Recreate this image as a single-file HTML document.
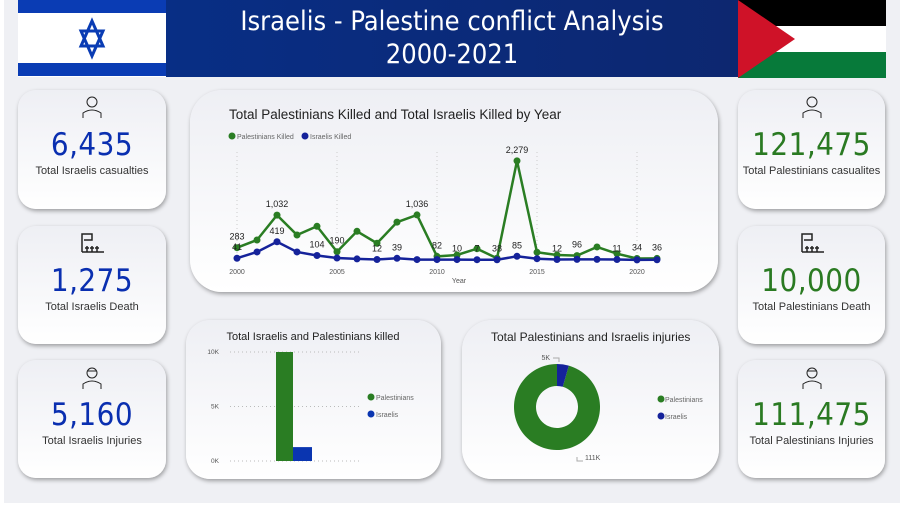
<!DOCTYPE html>
<html><head><meta charset="utf-8">
<style>
*{box-sizing:border-box;margin:0;padding:0}
body{width:904px;height:507px;overflow:hidden;background:#fff;font-family:"Liberation Sans",sans-serif;position:relative}
#bg{position:absolute;left:4px;top:0;width:896px;height:503px;background:#eff0f4}
.card{position:absolute;border-radius:18px;background:linear-gradient(#eeeff4,#fff);box-shadow:1px 2px 4px rgba(0,0,0,.35)}
.kpi{text-align:center}
.kpi .v{position:absolute;left:0;right:0;top:37px;font-size:31px;letter-spacing:0.5px;font-family:"DejaVu Sans Condensed","Liberation Sans",sans-serif}
.kpi .l{position:absolute;left:0;right:0;top:75px;font-size:11px;color:#333}
.kpi .ic{position:absolute;left:50%;top:4px;transform:translateX(-50%)}
.blue{color:#0a2fb0}.green{color:#2a7a22}
</style></head><body>
<div id="bg"></div>
<svg style="position:absolute;left:18px;top:0" width="148" height="77">
<rect width="148" height="77" fill="#fff"/><rect y="0" width="148" height="13" fill="#0a3cb4"/><rect y="63" width="148" height="13" fill="#0a3cb4"/>
<polygon points="74,21 85,46 63,46" fill="none" stroke="#0a3cb4" stroke-width="3"/><polygon points="74,56 85,31 63,31" fill="none" stroke="#0a3cb4" stroke-width="3"/></svg>
<div style="position:absolute;left:166px;top:0;width:572px;height:77px;background:linear-gradient(90deg,#082e85,#0d2770);color:#fff;text-align:center;font-size:27px;line-height:33px;padding-top:5px;font-family:'DejaVu Sans Condensed','Liberation Sans',sans-serif">Israelis - Palestine conflict Analysis<br>2000-2021</div>
<svg style="position:absolute;left:738px;top:0" width="148" height="78">
<rect width="148" height="26" fill="#000"/><rect y="26" width="148" height="26" fill="#fff"/><rect y="52" width="148" height="26" fill="#077a3a"/><polygon points="0,0 57,39 0,78" fill="#cf1228"/></svg>

<div class="card kpi" style="left:18px;top:90px;width:148px;height:119px">
<svg class="ic" width="22" height="24"><circle cx="11" cy="8" r="5" fill="none" stroke="#222"/><path d="M2 24v-5q9-6 18 0v5" fill="none" stroke="#222"/></svg>
<div class="v blue">6,435</div><div class="l">Total Israelis casualties</div></div>
<div class="card kpi" style="left:18px;top:226px;width:148px;height:118px">
<svg class="ic" width="26" height="24"><path d="M3 22V4h10v6H5M3 22h22M8 22v-6M13 22v-6M18 22v-6M6 18h4M11 18h4M16 18h4" fill="none" stroke="#222" stroke-width="1.5"/></svg>
<div class="v blue">1,275</div><div class="l">Total Israelis Death</div></div>
<div class="card kpi" style="left:18px;top:360px;width:148px;height:118px">
<svg class="ic" width="22" height="26"><circle cx="11" cy="9" r="5" fill="none" stroke="#222"/><path d="M6 7h10M2 25v-5q9-6 18 0v5" fill="none" stroke="#222"/></svg>
<div class="v blue">5,160</div><div class="l">Total Israelis Injuries</div></div>
<div class="card kpi" style="left:738px;top:90px;width:147px;height:119px">
<svg class="ic" width="22" height="24"><circle cx="11" cy="8" r="5" fill="none" stroke="#222"/><path d="M2 24v-5q9-6 18 0v5" fill="none" stroke="#222"/></svg>
<div class="v green">121,475</div><div class="l">Total Palestinians casualites</div></div>
<div class="card kpi" style="left:738px;top:226px;width:147px;height:118px">
<svg class="ic" width="26" height="24"><path d="M3 22V4h10v6H5M3 22h22M8 22v-6M13 22v-6M18 22v-6M6 18h4M11 18h4M16 18h4" fill="none" stroke="#222" stroke-width="1.5"/></svg>
<div class="v green">10,000</div><div class="l">Total Palestinians Death</div></div>
<div class="card kpi" style="left:738px;top:360px;width:147px;height:118px">
<svg class="ic" width="22" height="26"><circle cx="11" cy="9" r="5" fill="none" stroke="#222"/><path d="M6 7h10M2 25v-5q9-6 18 0v5" fill="none" stroke="#222"/></svg>
<div class="v green">111,475</div><div class="l">Total Palestinians Injuries</div></div>

<div class="card" style="left:190px;top:90px;width:528px;height:202px;border-radius:32px">
<svg id="line" width="528" height="202" style="position:absolute;left:0;top:0"></svg></div>
<div class="card" style="left:186px;top:320px;width:255px;height:159px;border-radius:24px">
<svg id="bar" width="255" height="159" style="position:absolute;left:0;top:0"></svg></div>
<div class="card" style="left:462px;top:320px;width:257px;height:159px;border-radius:30px">
<svg id="donut" width="257" height="159" style="position:absolute;left:0;top:0"></svg></div>

<script>
const years=[2000,2001,2002,2003,2004,2005,2006,2007,2008,2009,2010,2011,2012,2013,2014,2015,2016,2017,2018,2019,2020,2021];
const palKilled=[283,460,1032,575,775,190,660,385,870,1036,82,115,260,40,2279,177,115,100,300,145,34,36];
const israKilled=[41,185,419,185,104,45,25,12,39,10,10,10,7,6,85,30,12,15,14,11,3,5];
const palLabels=["283","","1,032","","","190","","","","1,036","82","","","","2,279","","","96","","","34","36"];
const israLabels=["41","","419","","104","","","12","39","","","10","7","38","85","","12","","","11","",""];
const xTicks=[2000,2005,2010,2015,2020];
const barCats=["Palestinians","Israelis"];
const barVals=[10000,1275];
const barTicks=[0,5000,10000];
const barTickLabels=["0K","5K","10K"];
const donutCats=["Palestinians","Israelis"];
const donutVals=[111475,5160];
const donutLabels=["111K","5K"];
const G="#2a7d23",B="#15229a",NS="http://www.w3.org/2000/svg";
function mk(p,t,a,txt){const e=document.createElementNS(NS,t);for(const k in a)e.setAttribute(k,a[k]);if(txt!==undefined)e.textContent=txt;p.appendChild(e);return e;}
const L=document.getElementById('line');
const lx=y=>47+(y-2000)*20, ly=v=>170-v*0.0435;
let t=mk(L,'text',{x:39,y:29,'font-size':13.5,fill:'#222'},'Total Palestinians Killed and Total Israelis Killed by Year');

[[G,'Palestinians Killed',42],[B,'Israelis Killed',115]].forEach(([c,n,x])=>{
 const g=mk(L,'g',{});
 mk(g,'circle',{cx:x,cy:46,r:3.5,fill:c});mk(g,'text',{x:x+5,y:49,'font-size':7,fill:'#666'},n);});
xTicks.forEach(y=>{mk(L,'line',{x1:lx(y),x2:lx(y),y1:62,y2:170,stroke:'#ccc','stroke-dasharray':'1,3'});
 const e=mk(L,'text',{x:lx(y),y:184,'font-size':7,fill:'#555','text-anchor':'middle'},y);});
let xt=mk(L,'text',{x:269,y:193,'font-size':7,fill:'#555','text-anchor':'middle'},'Year');
[[palKilled,G,palLabels,'palestinians'],[israKilled,B,israLabels,'israelis']].forEach(([vals,c,labs,nm])=>{
 const p=mk(L,'polyline',{points:vals.map((v,i)=>lx(years[i])+','+ly(v)).join(' '),fill:'none',stroke:c,'stroke-width':2.5});
 
 vals.forEach((v,i)=>{const d=mk(L,'circle',{cx:lx(years[i]),cy:ly(v),r:3.5,fill:c});
  
  if(labs[i]){const e=mk(L,'text',{x:lx(years[i]),y:ly(v)-8,'font-size':9,fill:'#222','text-anchor':'middle'},labs[i]);
   }});});
const Bs=document.getElementById('bar');
const by=v=>141-v*0.0109;
t=mk(Bs,'text',{x:127,y:20,'font-size':11,fill:'#222','text-anchor':'middle'},'Total Israelis and Palestinians killed');

barTicks.forEach((v,i)=>{mk(Bs,'line',{x1:44,x2:176,y1:by(v),y2:by(v),stroke:'#bbb','stroke-dasharray':'1,3'});
 const e=mk(Bs,'text',{x:33,y:by(v)+2,'font-size':6.5,fill:'#555','text-anchor':'end'},barTickLabels[i]);});
const barColors=[G,'#0a35b0'],bx=[90,107],bw=[17,19];
barVals.forEach((v,i)=>{const r=mk(Bs,'rect',{x:bx[i],y:by(v),width:bw[i],height:by(0)-by(v),fill:barColors[i]});
 
 const g=mk(Bs,'g',{});
 mk(g,'circle',{cx:185,cy:77+i*17,r:3.5,fill:barColors[i]});mk(g,'text',{x:190,y:80+i*17,'font-size':7,fill:'#666'},barCats[i]);});
const D=document.getElementById('donut');
t=mk(D,'text',{x:29,y:21,'font-size':12,fill:'#222'},"Total Palestinians and Israelis injuries");

const cx=95,cy=87,R=43,r0=21,tot=donutVals.reduce((a,b)=>a+b,0),dc=[G,B];
let a0=0;
donutVals.forEach((v,i)=>{const a1=a0-v/tot*2*Math.PI;
 const P=(a,rr)=>[cx+rr*Math.sin(a),cy-rr*Math.cos(a)];
 const [x1,y1]=P(a0,R),[x2,y2]=P(a1,R),[x3,y3]=P(a1,r0),[x4,y4]=P(a0,r0),lg=(a0-a1)>Math.PI?1:0;
 const s=mk(D,'path',{d:`M${x1},${y1}A${R},${R} 0 ${lg} 0 ${x2},${y2}L${x3},${y3}A${r0},${r0} 0 ${lg} 1 ${x4},${y4}Z`,fill:dc[i]});
 
 const g=mk(D,'g',{});
 mk(g,'circle',{cx:199,cy:79+i*17,r:3.5,fill:dc[i]});mk(g,'text',{x:203,y:82+i*17,'font-size':7,fill:'#666'},donutCats[i]);
 a0=a1;});
mk(D,'path',{d:'M115,137v4h6',fill:'none',stroke:'#aaa'});
let dl=mk(D,'text',{x:123,y:140,'font-size':7,fill:'#555'},donutLabels[0]);
mk(D,'path',{d:'M91,38h6v4',fill:'none',stroke:'#aaa'});
dl=mk(D,'text',{x:88,y:40,'font-size':7,fill:'#555','text-anchor':'end'},donutLabels[1]);
</script>
</body></html>
